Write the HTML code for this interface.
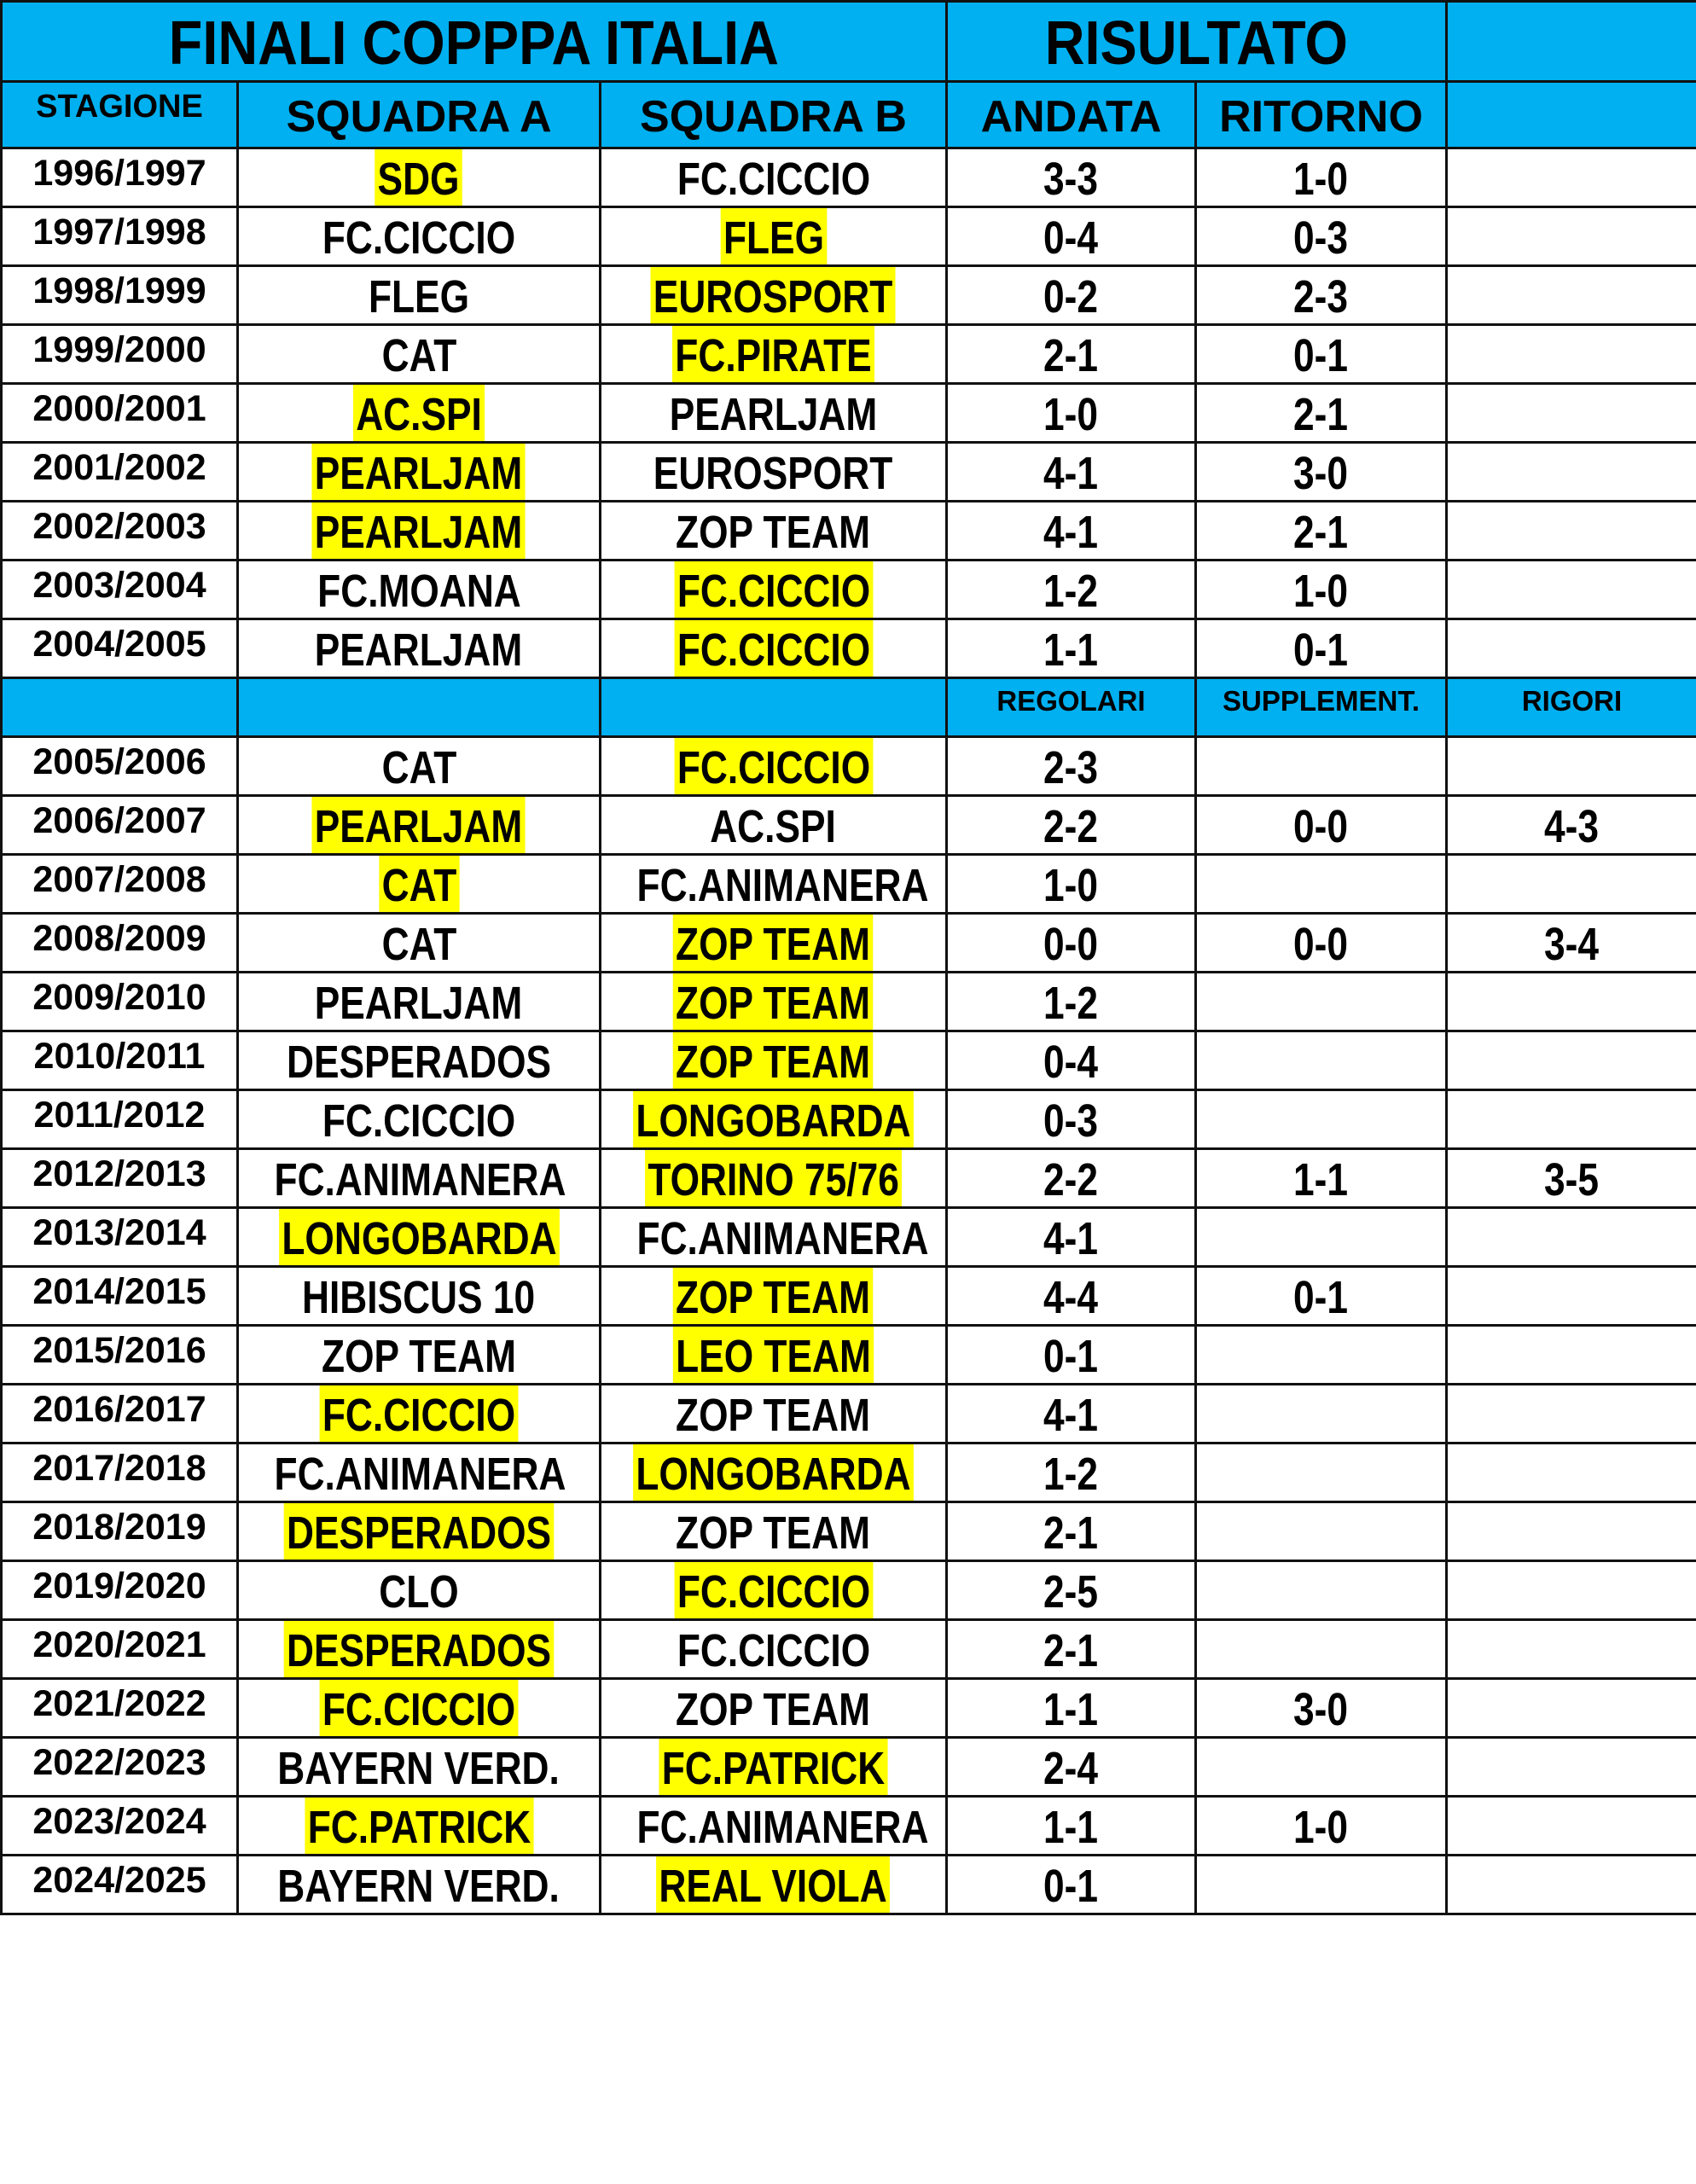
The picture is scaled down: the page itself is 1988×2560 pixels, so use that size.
<!DOCTYPE html>
<html><head><meta charset="utf-8">
<style>
html,body{margin:0;padding:0;background:#fff;width:1988px;height:2560px;overflow:hidden}
table{position:absolute;left:0;top:0;border-collapse:collapse;table-layout:fixed;width:1988px;font-family:"Liberation Sans",sans-serif;font-weight:bold;color:#000}
td{border:3px solid #111;padding:0;text-align:center;vertical-align:middle;white-space:nowrap;overflow:hidden}
.b td{background:#00B0F0}
tr.d{height:69px}
tr.d td{font-size:54px;line-height:60px;height:66px}
tr.d td:first-child{font-size:43px;line-height:56px;vertical-align:top}
.s{display:inline-block;vertical-align:top;transform:scaleX(.82);height:66px;line-height:70px;padding:0 4px}
.y{background:#FFFF00}
.t td{font-size:72px;height:91px;line-height:80px}
.t .s{transform:scaleX(.9);height:91px;line-height:96px}
.h td{font-size:52px;height:75px;line-height:70px}
.h .s{transform:scaleX(1);height:75px;line-height:80px}
.h td:first-child{font-size:38px;vertical-align:top;line-height:56px}
.sub td{font-size:33px;vertical-align:top;line-height:52px;height:66px}
</style></head><body>
<table>
<colgroup><col style="width:277px"><col style="width:425px"><col style="width:406px"><col style="width:292px"><col style="width:294px"><col style="width:294px"></colgroup>
<tr class="b t"><td colspan="3"><span class="s">FINALI COPPPA ITALIA</span></td><td colspan="2"><span class="s">RISULTATO</span></td><td></td></tr>
<tr class="b h"><td>STAGIONE</td><td><span class="s">SQUADRA A</span></td><td><span class="s">SQUADRA B</span></td><td><span class="s">ANDATA</span></td><td><span class="s">RITORNO</span></td><td></td></tr>
<tr class="d"><td>1996/1997</td><td><span class="s y">SDG</span></td><td><span class="s">FC.CICCIO</span></td><td><span class="s">3-3</span></td><td><span class="s">1-0</span></td><td></td></tr>
<tr class="d"><td>1997/1998</td><td><span class="s">FC.CICCIO</span></td><td><span class="s y">FLEG</span></td><td><span class="s">0-4</span></td><td><span class="s">0-3</span></td><td></td></tr>
<tr class="d"><td>1998/1999</td><td><span class="s">FLEG</span></td><td><span class="s y">EUROSPORT</span></td><td><span class="s">0-2</span></td><td><span class="s">2-3</span></td><td></td></tr>
<tr class="d"><td>1999/2000</td><td><span class="s">CAT</span></td><td><span class="s y">FC.PIRATE</span></td><td><span class="s">2-1</span></td><td><span class="s">0-1</span></td><td></td></tr>
<tr class="d"><td>2000/2001</td><td><span class="s y">AC.SPI</span></td><td><span class="s">PEARLJAM</span></td><td><span class="s">1-0</span></td><td><span class="s">2-1</span></td><td></td></tr>
<tr class="d"><td>2001/2002</td><td><span class="s y">PEARLJAM</span></td><td><span class="s">EUROSPORT</span></td><td><span class="s">4-1</span></td><td><span class="s">3-0</span></td><td></td></tr>
<tr class="d"><td>2002/2003</td><td><span class="s y">PEARLJAM</span></td><td><span class="s">ZOP TEAM</span></td><td><span class="s">4-1</span></td><td><span class="s">2-1</span></td><td></td></tr>
<tr class="d"><td>2003/2004</td><td><span class="s">FC.MOANA</span></td><td><span class="s y">FC.CICCIO</span></td><td><span class="s">1-2</span></td><td><span class="s">1-0</span></td><td></td></tr>
<tr class="d"><td>2004/2005</td><td><span class="s">PEARLJAM</span></td><td><span class="s y">FC.CICCIO</span></td><td><span class="s">1-1</span></td><td><span class="s">0-1</span></td><td></td></tr>
<tr class="b sub"><td></td><td></td><td></td><td>REGOLARI</td><td>SUPPLEMENT.</td><td>RIGORI</td></tr>
<tr class="d"><td>2005/2006</td><td><span class="s">CAT</span></td><td><span class="s y">FC.CICCIO</span></td><td><span class="s">2-3</span></td><td></td><td></td></tr>
<tr class="d"><td>2006/2007</td><td><span class="s y">PEARLJAM</span></td><td><span class="s">AC.SPI</span></td><td><span class="s">2-2</span></td><td><span class="s">0-0</span></td><td><span class="s">4-3</span></td></tr>
<tr class="d"><td>2007/2008</td><td><span class="s y">CAT</span></td><td><span class="s">FC.ANIMANERA</span></td><td><span class="s">1-0</span></td><td></td><td></td></tr>
<tr class="d"><td>2008/2009</td><td><span class="s">CAT</span></td><td><span class="s y">ZOP TEAM</span></td><td><span class="s">0-0</span></td><td><span class="s">0-0</span></td><td><span class="s">3-4</span></td></tr>
<tr class="d"><td>2009/2010</td><td><span class="s">PEARLJAM</span></td><td><span class="s y">ZOP TEAM</span></td><td><span class="s">1-2</span></td><td></td><td></td></tr>
<tr class="d"><td>2010/2011</td><td><span class="s">DESPERADOS</span></td><td><span class="s y">ZOP TEAM</span></td><td><span class="s">0-4</span></td><td></td><td></td></tr>
<tr class="d"><td>2011/2012</td><td><span class="s">FC.CICCIO</span></td><td><span class="s y">LONGOBARDA</span></td><td><span class="s">0-3</span></td><td></td><td></td></tr>
<tr class="d"><td>2012/2013</td><td><span class="s">FC.ANIMANERA</span></td><td><span class="s y">TORINO 75/76</span></td><td><span class="s">2-2</span></td><td><span class="s">1-1</span></td><td><span class="s">3-5</span></td></tr>
<tr class="d"><td>2013/2014</td><td><span class="s y">LONGOBARDA</span></td><td><span class="s">FC.ANIMANERA</span></td><td><span class="s">4-1</span></td><td></td><td></td></tr>
<tr class="d"><td>2014/2015</td><td><span class="s">HIBISCUS 10</span></td><td><span class="s y">ZOP TEAM</span></td><td><span class="s">4-4</span></td><td><span class="s">0-1</span></td><td></td></tr>
<tr class="d"><td>2015/2016</td><td><span class="s">ZOP TEAM</span></td><td><span class="s y">LEO TEAM</span></td><td><span class="s">0-1</span></td><td></td><td></td></tr>
<tr class="d"><td>2016/2017</td><td><span class="s y">FC.CICCIO</span></td><td><span class="s">ZOP TEAM</span></td><td><span class="s">4-1</span></td><td></td><td></td></tr>
<tr class="d"><td>2017/2018</td><td><span class="s">FC.ANIMANERA</span></td><td><span class="s y">LONGOBARDA</span></td><td><span class="s">1-2</span></td><td></td><td></td></tr>
<tr class="d"><td>2018/2019</td><td><span class="s y">DESPERADOS</span></td><td><span class="s">ZOP TEAM</span></td><td><span class="s">2-1</span></td><td></td><td></td></tr>
<tr class="d"><td>2019/2020</td><td><span class="s">CLO</span></td><td><span class="s y">FC.CICCIO</span></td><td><span class="s">2-5</span></td><td></td><td></td></tr>
<tr class="d"><td>2020/2021</td><td><span class="s y">DESPERADOS</span></td><td><span class="s">FC.CICCIO</span></td><td><span class="s">2-1</span></td><td></td><td></td></tr>
<tr class="d"><td>2021/2022</td><td><span class="s y">FC.CICCIO</span></td><td><span class="s">ZOP TEAM</span></td><td><span class="s">1-1</span></td><td><span class="s">3-0</span></td><td></td></tr>
<tr class="d"><td>2022/2023</td><td><span class="s">BAYERN VERD.</span></td><td><span class="s y">FC.PATRICK</span></td><td><span class="s">2-4</span></td><td></td><td></td></tr>
<tr class="d"><td>2023/2024</td><td><span class="s y">FC.PATRICK</span></td><td><span class="s">FC.ANIMANERA</span></td><td><span class="s">1-1</span></td><td><span class="s">1-0</span></td><td></td></tr>
<tr class="d"><td>2024/2025</td><td><span class="s">BAYERN VERD.</span></td><td><span class="s y">REAL VIOLA</span></td><td><span class="s">0-1</span></td><td></td><td></td></tr>
</table>
</body></html>
